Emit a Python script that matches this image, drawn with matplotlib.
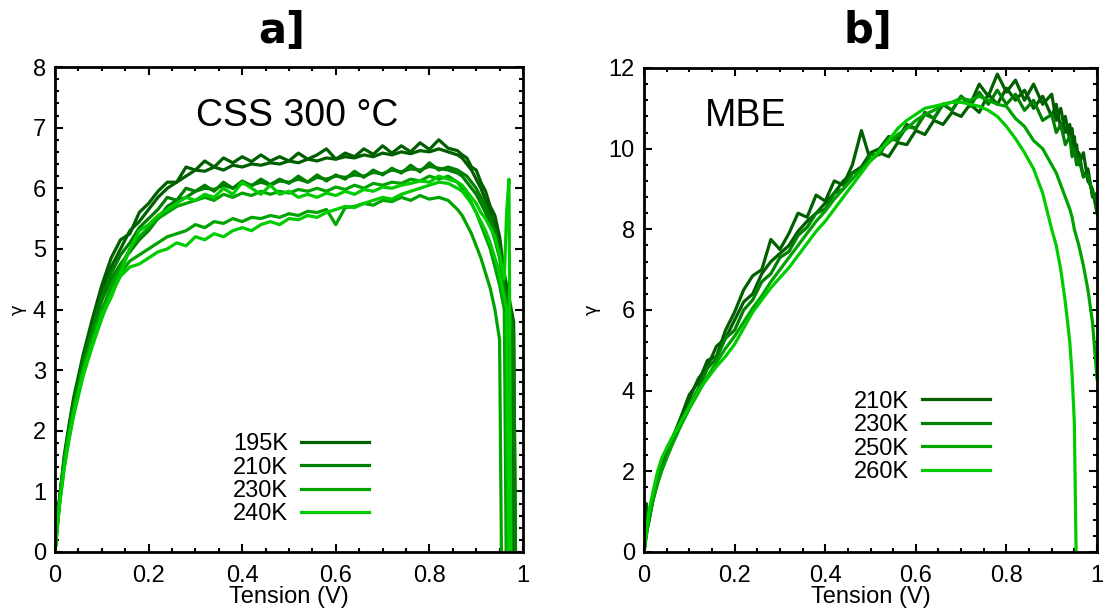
import matplotlib
matplotlib.use("Agg")
import matplotlib.pyplot as plt
from matplotlib.ticker import MultipleLocator
import numpy as np

nan = np.nan

# ---- panel a : CSS 300 °C ----
xa = [0, 0.005, 0.01, 0.02, 0.03, 0.04, 0.06, 0.08, 0.10, 0.12, 0.14, 0.16, 0.18, 0.20,
      0.22, 0.24, 0.26, 0.28, 0.30, 0.32, 0.34, 0.36, 0.38, 0.40, 0.42, 0.44, 0.46, 0.48,
      0.50, 0.52, 0.54, 0.56, 0.58, 0.60, 0.62, 0.64, 0.66, 0.68, 0.70, 0.72, 0.74, 0.76,
      0.78, 0.80, 0.82, 0.84, 0.86,
      0.87, 0.88, 0.89, 0.90, 0.91, 0.92, 0.93, 0.94, 0.95, 0.955, 0.96, 0.965, 0.97, 0.975, 0.98, 0.985]

a195_1 = [0, 0.5, 0.9, 1.6, 2.1, 2.55, 3.25, 3.85, 4.4, 4.85, 5.15, 5.25, 5.6, 5.75,
          5.95, 6.1, 6.1, 6.35, 6.3, 6.45, 6.35, 6.5, 6.42, 6.52, 6.44, 6.55, 6.45, 6.52,
          6.45, 6.58, 6.48, 6.55, 6.65, 6.48, 6.58, 6.52, 6.65, 6.56, 6.7, 6.58, 6.7, 6.6,
          6.75, 6.64, 6.8, 6.66, 6.62,
          6.55, 6.5, 6.35, 6.3, 6.1, 5.95, 5.7, 5.55, 5.2, 4.9, 4.6, 4.4, 4.2, 4.0, 3.8, -1]
a195_2 = [0, 0.5, 0.9, 1.55, 2.05, 2.5, 3.2, 3.75, 4.3, 4.7, 5.0, 5.3, 5.45, 5.65,
          5.85, 6.0, 6.1, 6.2, 6.3, 6.28, 6.35, 6.3, 6.38, 6.35, 6.4, 6.38, 6.42, 6.4,
          6.45, 6.42, 6.48, 6.45, 6.5, 6.48, 6.52, 6.5, 6.55, 6.52, 6.58, 6.55, 6.6, 6.57,
          6.62, 6.6, 6.65, 6.6, 6.55,
          6.5, 6.4, 6.3, 6.15, 6.0, 5.8, 5.6, 5.4, 5.1, 4.8, 4.5, 4.3, 4.1, 3.9, -1, nan]
a210_1 = [0, 0.5, 0.9, 1.55, 2.05, 2.45, 3.15, 3.7, 4.2, 4.6, 4.9, 5.1, 5.35, 5.5,
          5.65, 5.85, 5.8, 6.0, 5.95, 6.05, 5.95, 6.1, 6.0, 6.12, 6.04, 6.15, 6.06, 6.15,
          6.08, 6.2, 6.1, 6.22, 6.12, 6.22, 6.15, 6.28, 6.18, 6.3, 6.22, 6.33, 6.25, 6.38,
          6.27, 6.42, 6.3, 6.35, 6.3,
          6.25, 6.2, 6.1, 6.0, 5.85, 5.7, 5.5, 5.3, 5.0, 4.7, 4.4, 4.2, 4.0, -1, nan, nan]
a210_2 = [0, 0.5, 0.85, 1.5, 2.0, 2.4, 3.1, 3.65, 4.15, 4.5, 4.75, 4.95, 5.15, 5.3,
          5.5, 5.7, 5.8, 5.85, 5.95, 6.0, 5.98, 6.05, 6.0, 6.08, 6.05, 6.1, 6.05, 6.12,
          6.1, 6.15, 6.1, 6.18, 6.15, 6.2, 6.18, 6.22, 6.2, 6.26, 6.24, 6.3, 6.27, 6.32,
          6.3, 6.36, 6.33, 6.3, 6.25,
          6.2, 6.1, 6.0, 5.9, 5.75, 5.6, 5.4, 5.15, 4.85, 4.6, 4.4, 4.2, 4.0, 3.8, 3.6, -1]
a230_1 = [0, 0.45, 0.85, 1.5, 1.95, 2.35, 3.0, 3.55, 4.0, 4.35, 4.6, 4.8, 4.9, 5.0,
          5.1, 5.2, 5.25, 5.3, 5.4, 5.35, 5.45, 5.42, 5.5, 5.45, 5.52, 5.5, 5.55, 5.52,
          5.58, 5.55, 5.62, 5.6, 5.65, 5.4, 5.68, 5.7, 5.75, 5.72, 5.8, 5.78, 5.85, 5.8,
          5.88, 5.82, 5.85, 5.8, 5.65,
          5.55, 5.4, 5.25, 5.05, 4.85, 4.6, 4.35, 4.0, 3.5, -1, nan, nan, nan, nan, nan, nan]
a230_2 = [0, 0.45, 0.85, 1.45, 1.95, 2.35, 3.0, 3.5, 3.95, 4.4, 4.7, 5.0, 5.2, 5.35,
          5.5, 5.6, 5.7, 5.75, 5.8, 5.85, 5.8, 5.9, 5.85, 5.92, 5.88, 5.95, 5.9, 5.95,
          5.92, 5.98, 5.95, 6.0, 5.95, 6.02, 5.98, 6.05, 6.0, 6.08, 6.05, 6.1, 6.08, 6.15,
          6.12, 6.2, 6.15, 6.2, 6.1,
          6.0, 5.9, 5.75, 5.6, 5.4, 5.2, 5.0, 4.7, 4.4, 4.2, 4.0, -1, nan, nan, nan, nan]
a240_1 = [0, 0.4, 0.8, 1.4, 1.9, 2.3, 2.95, 3.45, 3.9, 4.2, 4.6, 5.0, 5.3, 5.4,
          5.55, 5.65, 5.75, 5.85, 5.8, 5.9, 5.85, 6.0, 5.9, 6.1, 6.0, 5.9, 6.05, 5.9,
          5.95, 5.85, 5.9, 5.85, 5.92, 5.88, 5.95, 5.9, 5.98, 5.95, 6.02, 6.0, 6.05, 6.08,
          6.12, 6.1, 6.2, 6.15, 6.1,
          6.05, 5.95, 5.85, 5.75, 5.6, 5.5, 5.35, 5.2, 4.9, 4.7, 4.5, 5.6, 6.15, -1, nan, nan]
a240_2 = [0, 0.4, 0.8, 1.4, 1.85, 2.25, 2.9, 3.4, 3.85, 4.25, 4.55, 4.7, 4.75, 4.85,
          4.95, 5.0, 5.1, 5.05, 5.2, 5.15, 5.25, 5.2, 5.3, 5.35, 5.3, 5.4, 5.45, 5.4,
          5.5, 5.48, 5.55, 5.52, 5.6, 5.65, 5.7, 5.68, 5.75, 5.8, 5.85, 5.82, 5.9, 5.95,
          6.0, 6.05, 6.1, 6.08, 6.0,
          5.95, 5.85, 5.75, 5.6, 5.45, 5.3, 5.1, 4.85, 4.6, 4.4, 4.2, 4.0, -1, nan, nan, nan]

# ---- panel b : MBE ----
xb = [0, 0.005, 0.01, 0.02, 0.03, 0.04, 0.06, 0.08, 0.10,
      0.12, 0.14, 0.16, 0.18, 0.20, 0.22, 0.24, 0.26, 0.28, 0.30, 0.32, 0.34, 0.36, 0.38,
      0.40, 0.42, 0.44, 0.46, 0.48, 0.50, 0.52, 0.54, 0.56, 0.58, 0.60, 0.62, 0.64, 0.66,
      0.68, 0.70, 0.72, 0.74, 0.76, 0.78, 0.80, 0.82, 0.84, 0.86, 0.88, 0.90,
      0.91, 0.92, 0.93, 0.94, 0.945, 0.95, 0.955, 0.96, 0.97, 0.98, 0.99, 1.0]

b210_1 = [0, 1.2, 0.7, 1.35, 1.8, 2.15, 2.75, 3.3, 3.9,
          4.2, 4.75, 4.85, 5.5, 5.95, 6.5, 6.85, 7.0, 7.75, 7.5, 7.9, 8.4, 8.3, 8.85,
          8.7, 9.2, 9.1, 9.6, 10.45, 9.7, 9.9, 9.8, 10.15, 10.1, 10.45, 10.35, 10.7, 10.6,
          10.9, 10.8, 11.1, 10.9, 11.35, 11.1, 11.5, 11.2, 11.45, 11.0, 11.3, 10.8,
          11.1, 10.5, 10.8, 10.2, 10.5, 9.9, 10.1, 9.6, 9.9, 9.2, 9.0, 8.4]
b210_2 = [0, 0.5, 0.8, 1.3, 1.75, 2.1, 2.7, 3.25, 3.8,
          4.3, 4.6, 5.1, 5.3, 5.75, 6.2, 6.4, 6.9, 7.2, 7.4, 7.6, 7.95, 8.2, 8.4,
          8.65, 8.9, 9.2, 9.4, 9.55, 9.9, 10.0, 10.3, 10.25, 10.6, 10.5, 10.9, 10.75, 11.1,
          10.95, 11.3, 11.1, 11.6, 11.3, 11.85, 11.4, 11.7, 11.2, 11.6, 11.1, 11.35,
          10.7, 11.0, 10.4, 10.6, 10.0, 10.3, 9.7, 9.9, 9.3, 9.5, 8.8, 8.9]
b230 = [0, 0.4, 0.75, 1.3, 1.7, 2.05, 2.65, 3.15, 3.65,
        4.05, 4.55, 4.8, 5.3, 5.5, 6.0, 6.25, 6.7, 6.9, 7.3, 7.45, 7.85, 8.05, 8.4,
        8.5, 8.9, 9.0, 9.4, 9.45, 9.85, 9.85, 10.25, 10.2, 10.55, 10.5, 10.85, 10.75, 11.1,
        10.95, 11.3, 11.05, 11.4, 11.1, 11.45, 11.1, 11.35, 10.95, 11.2, 10.7, 10.85,
        10.4, 10.6, 10.1, 10.3, 9.8, 10.0, 9.6, 9.75, 9.3, 9.35, 8.9, 8.7]
b250 = [0, 0.4, 0.75, 1.3, 1.75, 2.05, 2.6, 3.1, 3.55,
        3.95, 4.35, 4.7, 5.05, 5.35, 5.7, 6.05, 6.35, 6.7, 7.0, 7.3, 7.6, 7.9, 8.2,
        8.45, 8.75, 9.0, 9.25, 9.5, 9.7, 9.95, 10.15, 10.35, 10.5, 10.7, 10.85, 10.95, 11.1,
        11.15, 11.25, 11.2, 11.3, 11.2, 11.1, 11.05, 10.75, 10.55, 10.2, 10.0, 9.6,
        9.4, 9.1, 8.8, 8.5, 8.3, 8.0, 7.8, 7.6, 7.1, 6.5, 5.7, 4.3]
b260 = [0, 0.5, 0.95, 1.5, 2.0, 2.35, 2.8, 3.2, 3.6,
        4.0, 4.3, 4.6, 4.85, 5.15, 5.55, 5.95, 6.25, 6.55, 6.8, 7.05, 7.35, 7.65, 7.95,
        8.2, 8.5, 8.8, 9.1, 9.4, 9.7, 9.95, 10.2, 10.5, 10.7, 10.85, 11.0, 11.05, 11.1,
        11.15, 11.15, 11.1, 11.05, 10.95, 10.8, 10.55, 10.25, 9.9, 9.5, 8.9, 8.0,
        7.6, 7.0, 6.2, 5.2, 4.4, 3.2, -1, nan, nan, nan, nan, nan]

temps_a = ["195K", "210K", "230K", "240K"]
temps_b = ["210K", "230K", "250K", "260K"]
greens = ["#006000", "#008000", "#00a400", "#00cc00"]

plt.rcParams['font.family'] = ['Liberation Sans', 'DejaVu Sans']

fig = plt.figure(figsize=(11.07, 6.10), dpi=100)
ax_a = fig.add_axes([55 / 1107, 58 / 610, 468 / 1107, 485 / 610])
ax_b = fig.add_axes([644 / 1107, 58 / 610, 453 / 1107, 484 / 610])

curves_a = [(a195_1, 0, True), (a195_2, 0, False), (a210_1, 1, True), (a210_2, 1, False),
            (a230_1, 2, True), (a230_2, 2, False), (a240_1, 3, True), (a240_2, 3, False)]
for y, k, lab in curves_a:
    ax_a.plot(xa, y, color=greens[k], lw=2.3,
              label=temps_a[k] if lab else "_nolegend_")

curves_b = [(b210_2, 0, False), (b210_1, 0, True), (b230, 1, True), (b250, 2, True), (b260, 3, True)]
for y, k, lab in curves_b:
    ax_b.plot(xb, y, color=greens[k], lw=2.3,
              label=temps_b[k] if lab else "_nolegend_")

for ax, ymax, ymaj, ymin in [(ax_a, 8, 1, 0.2), (ax_b, 12, 2, 0.4)]:
    ax.set_xlim(0, 1)
    ax.set_ylim(0, ymax)
    ax.xaxis.set_major_locator(MultipleLocator(0.2))
    ax.xaxis.set_minor_locator(MultipleLocator(0.05))
    ax.yaxis.set_major_locator(MultipleLocator(ymaj))
    ax.yaxis.set_minor_locator(MultipleLocator(ymin))
    ax.xaxis.set_major_formatter(plt.FuncFormatter(lambda v, p: f"{v:g}"))
    ax.tick_params(which='both', direction='in', top=True, right=True, width=1.5,
                   labelsize=17)
    ax.tick_params(which='major', length=5.5)
    ax.tick_params(which='minor', length=3)
    ax.tick_params(axis='x', pad=9)
    ax.tick_params(axis='y', pad=6.5)
    for s in ax.spines.values():
        s.set_linewidth(2)
    ax.set_xlabel("Tension (V)", fontsize=17, labelpad=0)

leg_kw = dict(fontsize=17, frameon=False, markerfirst=False, handlelength=2.9,
              handletextpad=0.55, labelspacing=0.06, borderpad=0)

ax_a.set_ylabel("γ", fontsize=13, labelpad=4, family='DejaVu Sans')
ax_b.set_ylabel("γ", fontsize=13, labelpad=6, family='DejaVu Sans')

ax_a.legend(loc='center', bbox_to_anchor=(0.526, 0.15), **leg_kw)
ax_b.legend(loc='center', bbox_to_anchor=(0.613, 0.238), **leg_kw)

ax_a.text(0.518, 0.9, "CSS 300 °C", transform=ax_a.transAxes, ha='center', va='center',
          fontsize=27)
ax_b.text(0.225, 0.9, "MBE", transform=ax_b.transAxes, ha='center', va='center',
          fontsize=27)

fig.text(282 / 1107, 1 - 31 / 610, "a]", ha='center', va='center', fontsize=30,
         fontweight='bold', family='DejaVu Sans')
fig.text(868 / 1107, 1 - 31 / 610, "b]", ha='center', va='center', fontsize=30,
         fontweight='bold', family='DejaVu Sans')

fig.savefig("out.png", dpi=100)
